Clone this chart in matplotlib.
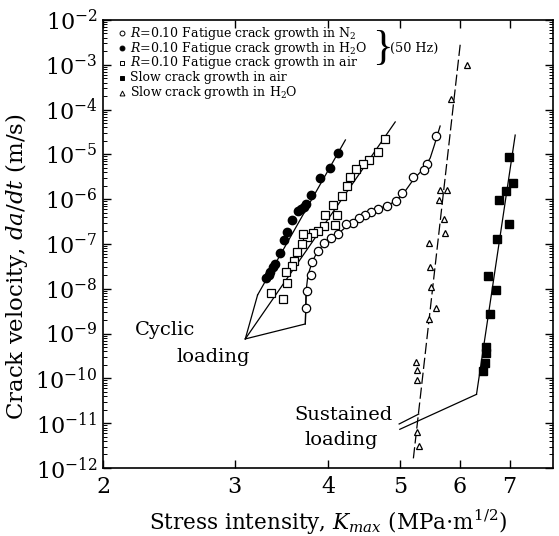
import matplotlib
matplotlib.use("Agg")
import matplotlib.pyplot as plt
from matplotlib import ticker

plt.rcParams['font.family'] = 'serif'
plt.rcParams['font.serif'] = ['DejaVu Serif']
plt.rcParams['mathtext.fontset'] = 'dejavuserif'

# values: K in MPa m^1/2, crack velocity in m/s
# R=0.10 fatigue in N2 (open circles)
n2_k = [5.58, 5.42, 5.38, 5.19, 5.02, 4.93, 4.80, 4.67, 4.56, 4.48, 4.40,
        4.32, 4.23, 4.12, 4.04, 3.95, 3.88, 3.81, 3.79, 3.75, 3.74]
n2_v = [2.6e-5, 6.0e-6, 4.5e-6, 3.1e-6, 1.36e-6, 9.3e-7, 7.1e-7, 6.0e-7, 5.3e-7,
        4.4e-7, 3.9e-7, 3.0e-7, 2.8e-7, 1.67e-7, 1.34e-7, 1.04e-7, 7.1e-8,
        3.9e-8, 2.0e-8, 9.1e-9, 3.7e-9]
# smooth curve drawn through the N2 data
n2_curve_k = [3.73, 3.74, 3.76, 3.81, 3.88, 3.99, 4.15, 4.31, 4.56, 4.85,
              5.03, 5.20, 5.38, 5.48, 5.55, 5.65]
n2_curve_v = [1.64e-9, 9.4e-9, 2.0e-8, 4.0e-8, 7.3e-8, 1.17e-7, 1.85e-7, 3.1e-7,
              5.2e-7, 7.8e-7, 1.24e-6, 2.7e-6, 5.0e-6, 8.3e-6, 1.6e-5, 4.3e-5]

# R=0.10 fatigue in H2O (filled circles)
h2o_k = [4.13, 4.03, 3.90, 3.79, 3.74, 3.72, 3.685, 3.65, 3.58, 3.53, 3.49,
         3.45, 3.40, 3.38, 3.35, 3.33, 3.30]
h2o_v = [1.1e-5, 5.0e-6, 3.0e-6, 1.25e-6, 7.8e-7, 6.7e-7, 6.0e-7, 5.5e-7,
         3.4e-7, 1.85e-7, 1.2e-7, 6.3e-8, 3.6e-8, 3.0e-8, 2.4e-8, 2.0e-8, 1.7e-8]
h2o_line_k = [3.22, 4.22]
h2o_line_v = [7.3e-9, 2.1e-5]

# R=0.10 fatigue in air (open squares)
air_k = [4.77, 4.67, 4.54, 4.46, 4.36, 4.28, 4.24, 4.17, 4.06, 4.11, 3.96,
         4.09, 3.95, 3.88, 3.82, 3.75, 3.70, 3.69, 3.63, 3.60, 3.58, 3.51,
         3.53, 3.36, 3.48]
air_v = [2.2e-5, 1.15e-5, 7.5e-6, 6.0e-6, 4.6e-6, 3.1e-6, 2.0e-6, 1.2e-6,
         7.5e-7, 4.5e-7, 4.4e-7, 2.6e-7, 2.5e-7, 1.9e-7, 1.8e-7, 1.43e-7,
         1.7e-7, 9.8e-8, 6.6e-8, 4.2e-8, 3.15e-8, 2.4e-8, 1.35e-8, 7.9e-9, 5.8e-9]
air_line_k = [3.10, 4.92]
air_line_v = [7.6e-10, 5.3e-5]

# slow crack growth in air (filled squares)
slow_air_k = [6.98, 7.07, 6.93, 6.77, 6.99, 6.74, 6.55, 6.72, 6.58, 6.50,
              6.51, 6.48, 6.44]
slow_air_v = [8.7e-6, 2.3e-6, 1.5e-6, 9.7e-7, 2.77e-7, 1.28e-7, 1.9e-8, 9.4e-9,
              2.78e-9, 5.0e-10, 3.6e-10, 2.24e-10, 1.49e-10]
slow_air_line_k = [6.32, 7.12]
slow_air_line_v = [4.4e-11, 2.7e-5]

# slow crack growth in H2O (open triangles)
slow_h2o_k = [6.14, 5.84, 5.64, 5.77, 5.63, 5.71, 5.73, 5.46, 5.47, 5.49,
              5.58, 5.46, 5.25, 5.26, 5.26, 5.26, 5.29]
slow_h2o_v = [9.9e-4, 1.7e-4, 1.6e-6, 1.6e-6, 9.6e-7, 3.6e-7, 1.8e-7, 1.07e-7,
              3.0e-8, 1.1e-8, 3.7e-9, 2.1e-9, 2.36e-10, 1.5e-10, 9.2e-11,
              6.5e-12, 3.1e-12]
slow_h2o_line_k = [6.01, 5.20]
slow_h2o_line_v = [2.8e-3, 1.5e-12]

# pointer lines for the "Cyclic loading" and "Sustained loading" notes
cyclic_k = [[3.10, 3.22], [3.10, 3.73, 3.74]]
cyclic_v = [[7.6e-10, 7.3e-9], [7.6e-10, 1.64e-9, 9.4e-9]]
sustained_k = [[4.98, 5.29], [4.99, 6.32]]
sustained_v = [[9.6e-12, 1.6e-11], [7.3e-12, 4.4e-11]]

legend_labels = [r"$R$=0.10 Fatigue crack growth in N$_2$",
                 r"$R$=0.10 Fatigue crack growth in H$_2$O",
                 r"$R$=0.10 Fatigue crack growth in air",
                 "Slow crack growth in air",
                 r"Slow crack growth in H$_2$O"]

fig = plt.figure(figsize=(5.59, 5.36), dpi=100)
ax = fig.add_axes([0.1843, 0.1269, 0.805, 0.8358])

lw = 0.9
ax.plot(n2_curve_k, n2_curve_v, color='k', lw=lw)
ax.plot(h2o_line_k, h2o_line_v, color='k', lw=lw)
ax.plot(air_line_k, air_line_v, color='k', lw=lw)
ax.plot(slow_air_line_k, slow_air_line_v, color='k', lw=lw)
ax.plot(slow_h2o_line_k, slow_h2o_line_v, color='k', lw=lw, dashes=(9, 3))
for ks, vs in zip(cyclic_k + sustained_k, cyclic_v + sustained_v):
    ax.plot(ks, vs, color='k', lw=lw)

ax.plot(n2_k, n2_v, 'o', ms=6, mfc='white', mec='k', mew=0.9)
ax.plot(h2o_k, h2o_v, 'o', ms=6, mfc='k', mec='k')
ax.plot(air_k, air_v, 's', ms=5.5, mfc='white', mec='k', mew=0.9)
ax.plot(slow_air_k, slow_air_v, 's', ms=5.5, mfc='k', mec='k')
ax.plot(slow_h2o_k, slow_h2o_v, '^', ms=5, mfc='white', mec='k', mew=0.9)

ax.set_xscale('log')
ax.set_yscale('log')
ax.set_xlim(2, 8)
ax.set_ylim(1e-12, 1e-2)
ax.xaxis.set_major_locator(ticker.FixedLocator([2, 3, 4, 5, 6, 7]))
ax.xaxis.set_major_formatter(ticker.FormatStrFormatter('%d'))
ax.xaxis.set_minor_locator(ticker.NullLocator())
ax.yaxis.set_major_locator(ticker.LogLocator(base=10, numticks=20))
ax.yaxis.set_minor_locator(ticker.LogLocator(base=10, subs=range(2, 10), numticks=20))
ax.yaxis.set_minor_formatter(ticker.NullFormatter())
ax.tick_params(which='both', direction='in', top=True, right=True, labelsize=16)
ax.tick_params(which='major', length=6, width=1)
ax.tick_params(which='minor', length=3, width=0.7)
ax.tick_params(axis='x', pad=6)
ax.tick_params(axis='y', pad=4)
for s in ax.spines.values():
    s.set_linewidth(1.2)

ax.set_xlabel(r"Stress intensity, $K_{max}$ (MPa$\cdot$m$^{1/2}$)", fontsize=15.5)
ax.set_ylabel(r"Crack velocity, $da/dt$ (m/s)", fontsize=16.5)
ax.yaxis.set_label_coords(-0.162, 0.449)
ax.xaxis.set_label_coords(0.5, -0.088)

# legend drawn by hand, like the original
rows = [0.970, 0.937, 0.904, 0.871, 0.838]
styles = [dict(marker='o', mfc='white'), dict(marker='o', mfc='k'),
          dict(marker='s', mfc='white'), dict(marker='s', mfc='k'),
          dict(marker='^', mfc='white')]
for yy, st, lab in zip(rows, styles, legend_labels):
    ax.plot([0.042], [yy], transform=ax.transAxes, ls='none', ms=3.5,
            mec='k', mew=0.7, **st)
    ax.text(0.06, yy, lab, transform=ax.transAxes, fontsize=9, va='center')
ax.text(0.598, 0.935, "}", transform=ax.transAxes, fontsize=31, va='center',
        family='Liberation Serif')
ax.text(0.638, 0.937, "(50 Hz)", transform=ax.transAxes, fontsize=9.2, va='center')

ax.text(0.071, 0.308, "Cyclic", transform=ax.transAxes, fontsize=14, va='center')
ax.text(0.164, 0.248, "loading", transform=ax.transAxes, fontsize=14, va='center')
ax.text(0.644, 0.118, "Sustained", transform=ax.transAxes, fontsize=14,
        va='center', ha='right')
ax.text(0.611, 0.0625, "loading", transform=ax.transAxes, fontsize=14,
        va='center', ha='right')

fig.savefig("out.png", dpi=100)
